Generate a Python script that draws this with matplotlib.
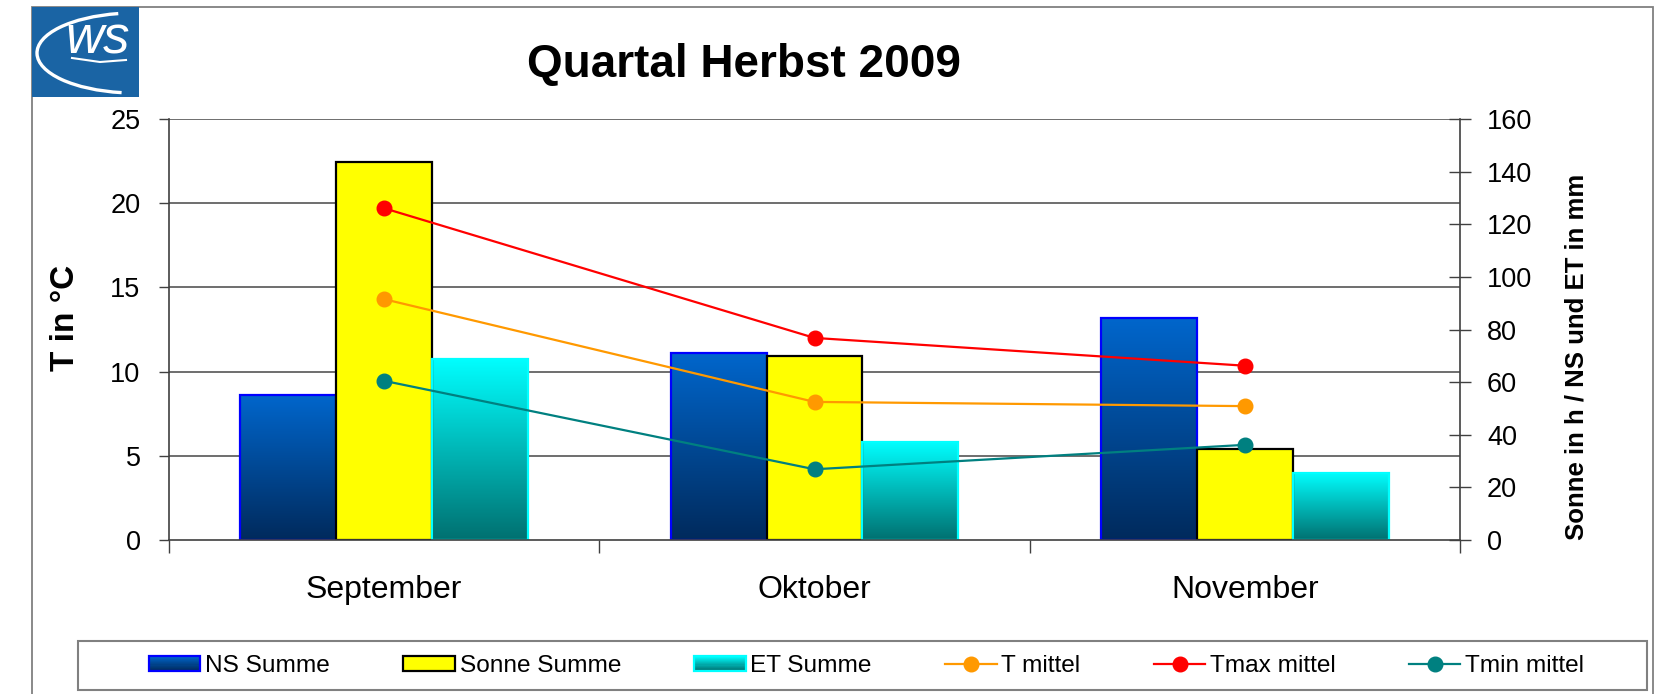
import matplotlib
matplotlib.use('Agg')
import matplotlib.pyplot as plt
import matplotlib.patches as mpatches
from matplotlib.legend_handler import HandlerBase
from matplotlib.colors import LinearSegmentedColormap, to_rgb
from matplotlib.transforms import blended_transform_factory
import numpy as np

plt.rcParams['font.family'] = ['Liberation Sans', 'DejaVu Sans']

# ── data ──
months      = ['September', 'Oktober', 'November']
ns_sum      = [55.0, 71.0, 84.3]
sonne_sum   = [143.8, 69.8, 34.6]
et_sum      = [68.8, 37.4, 25.6]
t_mittel    = [14.3, 8.2, 7.95]
tmax_mittel = [19.7, 12.0, 10.35]
tmin_mittel = [9.45, 4.2, 5.65]
temp_ticks  = [0, 5, 10, 15, 20, 25]
right_ticks = [0, 20, 40, 60, 80, 100, 120, 140, 160]

# ── colours ──
NS_TOP, NS_BOT, NS_EDGE = '#0066CC', '#002A5C', '#0000FF'
ET_TOP, ET_BOT, ET_EDGE = '#00FFFF', '#007070', '#00FFFF'
SONNE = '#FFFF00'
C_T, C_TMAX, C_TMIN = '#FF9900', '#FF0000', '#008080'
AXC = '#404040'

W, H = 1671, 694
fig = plt.figure(figsize=(W / 100, H / 100), dpi=100)
fig.patch.set_facecolor('white')

ax = fig.add_axes([169 / W, 1 - 540 / H, (1460 - 169) / W, (540 - 119) / H])
ax2 = ax.twinx()
ax.set_zorder(2)
ax2.set_zorder(1)
ax.patch.set_visible(False)
ax2.patch.set_facecolor('#D9D9D9')

x = np.arange(len(months))
w = 0.223


def gradient_bars(axis, xs, vals, top, bot, edge):
    bars = axis.bar(xs, vals, w, facecolor='none', edgecolor=edge, linewidth=1.6, zorder=3)
    cmap = LinearSegmentedColormap.from_list('g', [bot, top])
    grad = np.linspace(1, 0, 256).reshape(-1, 1)
    for b in bars:
        x0, y0 = b.get_x(), b.get_y()
        axis.imshow(grad, extent=[x0, x0 + b.get_width(), y0, y0 + b.get_height()],
                    aspect='auto', cmap=cmap, origin='upper', zorder=2, vmin=0, vmax=1)
    return bars


gradient_bars(ax2, x - w, ns_sum, NS_TOP, NS_BOT, NS_EDGE)
ax2.bar(x, sonne_sum, w, facecolor=SONNE, edgecolor='black', linewidth=1.6, zorder=3)
gradient_bars(ax2, x + w, et_sum, ET_TOP, ET_BOT, ET_EDGE)

l_t, = ax.plot(x, t_mittel, color=C_T, marker='o', ms=10.5, lw=1.6)
l_tmax, = ax.plot(x, tmax_mittel, color=C_TMAX, marker='o', ms=10.5, lw=1.6)
l_tmin, = ax.plot(x, tmin_mittel, color=C_TMIN, marker='o', ms=10.5, lw=1.6)

ax.set_xlim(-0.5, len(months) - 0.5)
ax.set_ylim(0, 25)
ax.set_yticks(temp_ticks)
ax2.set_ylim(0, 160)
ax2.set_yticks(right_ticks)

# gridlines from the temperature axis, drawn behind the bars
trans = blended_transform_factory(ax2.transAxes, ax.transData)
for v in ax.get_yticks()[1:]:
    ax2.plot([0, 1], [v, v], transform=trans, color='#474747', lw=1.1, zorder=1)

ax.set_xticks(x)
ax.set_xticklabels(months)
ax.set_xticks(np.arange(len(months) + 1) - 0.5, minor=True)
ax.tick_params(axis='x', which='major', length=0, labelsize=23, pad=25)
ax.tick_params(axis='x', which='minor', length=9, width=1, color=AXC, direction='out')
ax.tick_params(axis='y', direction='out', length=7, width=1, color=AXC, labelsize=19.5, pad=13.5)
ax2.tick_params(axis='y', direction='inout', length=16, width=1, color=AXC, labelsize=19.5, pad=11.5)

for s in ['top', 'right']:
    ax.spines[s].set_visible(False)
for s in ['top', 'left', 'bottom']:
    ax2.spines[s].set_visible(False)
for s in ['left', 'bottom']:
    ax.spines[s].set_color(AXC)
    ax.spines[s].set_linewidth(1.2)
ax2.spines['right'].set_color(AXC)
ax2.spines['right'].set_linewidth(1.2)

# ── texts ──
fig.text(744 / W, 1 - 65 / H, 'Quartal Herbst 2009', ha='center', va='center',
         fontsize=33, fontweight='bold')
fig.text(65 / W, 1 - 318 / H, 'T in °C', ha='center', va='center', rotation=90,
         fontsize=24, fontweight='bold')
fig.text(1577 / W, 1 - 357 / H, 'Sonne in h / NS und ET in mm', ha='center', va='center',
         rotation=90, fontsize=18.5, fontweight='bold')

# ── outer frame and logo ──
fig.add_artist(mpatches.Rectangle((32 / W, -0.1), (1653 - 32) / W, 1.1 - 7 / H,
                                  transform=fig.transFigure, fill=False,
                                  edgecolor='#808080', lw=1.3, zorder=0))
fig.add_artist(mpatches.Rectangle((32 / W, 1 - 97 / H), 107 / W, 90 / H,
                                  transform=fig.transFigure, facecolor='#1A64A4',
                                  edgecolor='none', zorder=5))
fig.add_artist(mpatches.Arc((135 / W, 1 - 53 / H), 196 / W, 80 / H, theta1=100, theta2=262,
                            transform=fig.transFigure, color='white', lw=2.4, zorder=6))
fig.text(98 / W, 1 - 53 / H, 'ws', ha='center', va='baseline', fontsize=38,
         style='italic', color='white', zorder=7)
fig.add_artist(matplotlib.lines.Line2D([72 / W, 100 / W, 126 / W],
                                       [1 - 58 / H, 1 - 62 / H, 1 - 60 / H],
                                       transform=fig.transFigure, color='white', lw=1.5, zorder=7))

# ── legend ──
class GradientHandler(HandlerBase):
    def __init__(self, top, bot, edge):
        super().__init__()
        self.top, self.bot, self.edge = np.array(to_rgb(top)), np.array(to_rgb(bot)), edge

    def create_artists(self, legend, orig_handle, xdescent, ydescent, width, height, fontsize, trans):
        arts = []
        n = 14
        for i in range(n):
            f = i / (n - 1)
            c = self.bot * (1 - f) + self.top * f
            r = mpatches.Rectangle((-xdescent, -ydescent + height * i / n), width, height / n,
                                   facecolor=c, edgecolor='none', transform=trans)
            arts.append(r)
        arts.append(mpatches.Rectangle((-xdescent, -ydescent), width, height, fill=False,
                                       edgecolor=self.edge, lw=1.6, transform=trans))
        return arts


h_ns = mpatches.Patch()
h_et = mpatches.Patch()
h_so = mpatches.Patch(facecolor=SONNE, edgecolor='black', lw=1.6)
fig.legend([h_ns, h_so, h_et, l_t, l_tmax, l_tmin],
           ['NS Summe', 'Sonne Summe', 'ET Summe', 'T mittel', 'Tmax mittel', 'Tmin mittel'],
           loc='center left', bbox_to_anchor=(149 / W, 1 - 666 / H), ncol=6, frameon=False,
           fontsize=17.6, handlelength=2.1, handleheight=0.6, handletextpad=0.2,
           columnspacing=3.0, borderpad=0, borderaxespad=0,
           handler_map={h_ns: GradientHandler(NS_TOP, NS_BOT, NS_EDGE),
                        h_et: GradientHandler(ET_TOP, ET_BOT, ET_EDGE)})
fig.add_artist(mpatches.Rectangle((78 / W, 1 - 690 / H), (1647 - 78) / W, 49 / H,
                                  transform=fig.transFigure, fill=False,
                                  edgecolor='#808080', lw=1.5, zorder=1))

fig.savefig('out.png', dpi=100)
